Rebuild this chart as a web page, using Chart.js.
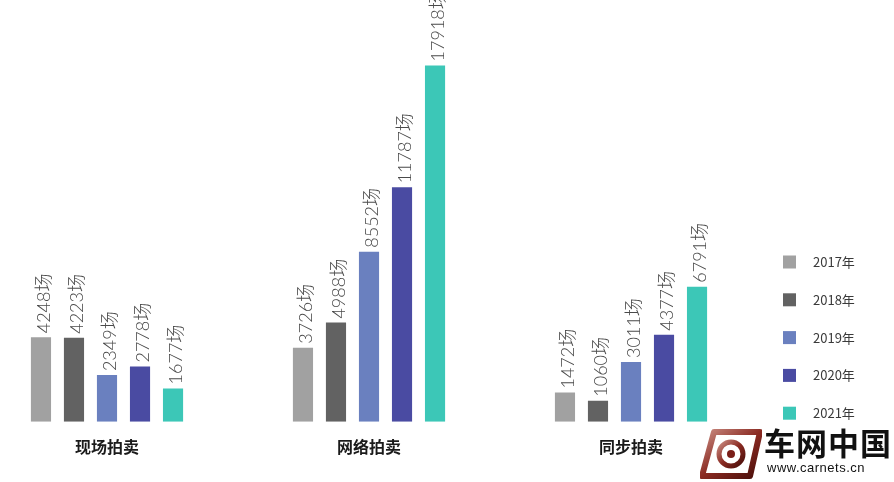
<!DOCTYPE html>
<html>
<head>
<meta charset="utf-8">
<script src="https://cdn.jsdelivr.net/npm/chart.js@4"></script>
<style>
  html, body { margin: 0; padding: 0; background: #fff; }
  #wrap { position: relative; width: 894px; height: 482px; overflow: hidden; }
  #mark { position: absolute; left: 700px; top: 424px; width: 194px; height: 58px; }
  #mark .big { position: absolute; left: 64px; top: 0px; font: bold 31px "Noto Sans CJK SC", sans-serif; color: #111; letter-spacing: 1px; line-height: 36px; }
  #mark .small { position: absolute; left: 67px; top: 36px; font: 13px "Liberation Sans", Arial, sans-serif; color: #111; letter-spacing: 0.5px; }
  #mark svg { position: absolute; left: 0; top: 4px; }
</style>
</head>
<body>
<div id="wrap">
  <canvas id="chart" width="894" height="482"></canvas>
  <div id="mark">
    <svg width="62" height="52" viewBox="0 0 62 52">
      <defs>
        <linearGradient id="g" x1="0" y1="0" x2="1" y2="1">
          <stop offset="0" stop-color="#c98a80"/>
          <stop offset="0.5" stop-color="#8a2a22"/>
          <stop offset="1" stop-color="#4a0e0a"/>
        </linearGradient>
      </defs>
      <path d="M14 4 L60 4 L50 48 L2 48 Z" fill="none" stroke="url(#g)" stroke-width="6" stroke-linejoin="round"/>
      <circle cx="31" cy="26" r="12" fill="none" stroke="url(#g)" stroke-width="5"/>
      <circle cx="31" cy="26" r="4" fill="#7a1e18"/>
    </svg>
    <div class="big">车网中国</div>
    <div class="small">www.carnets.cn</div>
  </div>
</div>
<script>
// categories and series
var categories = ['现场拍卖', '网络拍卖', '同步拍卖'];
var years = ['2017年', '2018年', '2019年', '2020年', '2021年'];
var colors = ['#a1a1a1', '#626262', '#6a80bf', '#4a4ba2', '#3cc7b7'];

var data2017 = [4248, 3726, 1472];
var data2018 = [4223, 4988, 1060];
var data2019 = [2349, 8552, 3011];
var data2020 = [2778, 11787, 4377];
var data2021 = [1677, 17918, 6791];
var seriesValues = [data2017, data2018, data2019, data2020, data2021];

var datasets = years.map(function(year, i) {
    return {
        label: year,
        data: seriesValues[i].map(function(v, j) { return { x: j, y: v }; }),
        backgroundColor: colors[i],
        categoryPercentage: 0.63,
        barPercentage: 0.61
    };
});

// rotated value labels above each bar
var valueLabels = {
    id: 'valueLabels',
    afterDatasetsDraw: function(chart) {
        var ctx = chart.ctx;
        ctx.save();
        ctx.font = '300 18px Lato, "Noto Sans CJK SC", sans-serif';
        ctx.fillStyle = '#4a4a4a';
        ctx.textAlign = 'left';
        ctx.textBaseline = 'middle';
        chart.data.datasets.forEach(function(ds, i) {
            chart.getDatasetMeta(i).data.forEach(function(bar, j) {
                ctx.save();
                ctx.translate(bar.x + 3, bar.y - 4);
                ctx.rotate(-Math.PI / 2);
                ctx.fillText(ds.data[j].y + '场', 0, 0);
                ctx.restore();
            });
        });
        ctx.restore();
    }
};

// legend on the right
var sideLegend = {
    id: 'sideLegend',
    afterDraw: function(chart) {
        var ctx = chart.ctx;
        ctx.save();
        ctx.font = '13px "Noto Sans CJK SC", sans-serif';
        ctx.textBaseline = 'middle';
        chart.data.datasets.forEach(function(ds, i) {
            var cy = 262 + i * 37.8;
            ctx.fillStyle = ds.backgroundColor;
            ctx.fillRect(783, cy - 6.5, 13, 13);
            ctx.fillStyle = '#3a3a3a';
            ctx.fillText(ds.label, 813, cy);
        });
        ctx.restore();
    }
};

var ctx = document.getElementById('chart').getContext('2d');
var chart = new Chart(ctx, {
    type: 'bar',
    data: { datasets: datasets },
    options: {
        responsive: false,
        animation: false,
        layout: { padding: { top: 24, left: 0, right: 0, bottom: 17 } },
        plugins: { legend: { display: false }, tooltip: { enabled: false } },
        scales: {
            x: {
                type: 'linear',
                offset: false,
                min: -0.4084,
                max: 3.0038,
                grid: { display: false, offset: false },
                border: { display: false },
                afterBuildTicks: function(scale) {
                    scale.ticks = categories.map(function(c, i) { return { value: i }; });
                },
                ticks: {
                    autoSkip: false,
                    maxRotation: 0,
                    padding: 8,
                    color: '#1a1a1a',
                    font: { family: '"Noto Sans CJK SC", sans-serif', size: 16, weight: 'bold' },
                    callback: function(value) { return categories[value]; }
                }
            },
            y: {
                display: false,
                min: 0,
                max: 20000
            }
        }
    },
    plugins: [valueLabels, sideLegend]
});
</script>
</body>
</html>
